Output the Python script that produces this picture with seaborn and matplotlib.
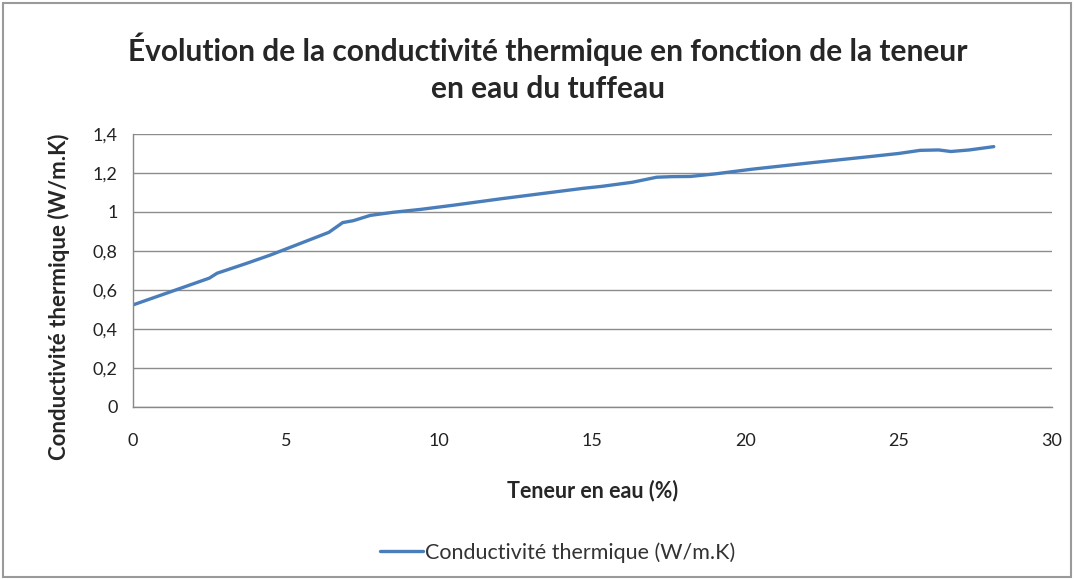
import matplotlib
matplotlib.use("Agg")
import matplotlib.pyplot as plt
import seaborn as sns
import pandas as pd
from matplotlib.patches import Rectangle

# teneur en eau (%) et conductivité thermique (W/m.K)
teneur = [0, 1.2, 2.5, 2.75, 3.7, 4.5, 5.5, 6.4, 6.85, 7.2, 7.75, 8.5, 9.4,
          10.5, 12, 13.5, 14.7, 15.3, 16.3, 17.1, 17.6, 18.2, 19, 20.2, 22,
          24, 25, 25.7, 26.3, 26.7, 27.3, 28.1]
conductivite = [0.522, 0.588, 0.66, 0.685, 0.735, 0.779, 0.84, 0.895, 0.945,
                0.955, 0.982, 0.998, 1.013, 1.035, 1.067, 1.097, 1.121, 1.131,
                1.152, 1.178, 1.181, 1.182, 1.195, 1.219, 1.25, 1.283, 1.30,
                1.316, 1.318, 1.31, 1.318, 1.335]

y_ticks = [0, 0.2, 0.4, 0.6, 0.8, 1.0, 1.2, 1.4]
y_labels = ["0", "0,2", "0,4", "0,6", "0,8", "1", "1,2", "1,4"]
x_ticks = [0, 5, 10, 15, 20, 25, 30]

serie = "Conductivité thermique (W/m.K)"
df = pd.DataFrame({"x": teneur, "y": conductivite})

sns.set_style("white")
plt.rcParams["font.family"] = ["Lato", "DejaVu Sans"]

fig = plt.figure(figsize=(10.74, 5.79), dpi=100)
ax = fig.add_axes([0.1236, 0.2976, 0.8559, 0.471])

sns.lineplot(data=df, x="x", y="y", ax=ax, color="#4A7EBB", linewidth=2.4,
             label=serie)

ax.set_xlim(0, 30)
ax.set_ylim(0, 1.4)
ax.set_xticks(x_ticks)
ax.set_xticklabels([str(t) for t in x_ticks])
ax.set_yticks(y_ticks)
ax.set_yticklabels(y_labels)
ax.tick_params(axis="both", labelsize=13, colors="#222222", length=5,
               width=1, direction="out", color="#888888", pad=6)
ax.tick_params(axis="x", pad=14)
ax.yaxis.grid(True, color="#8c8c8c", linewidth=1)
ax.set_axisbelow(True)
for s in ["top", "right"]:
    ax.spines[s].set_visible(False)
for s in ["left", "bottom"]:
    ax.spines[s].set_color("#888888")
    ax.spines[s].set_linewidth(1)

ax.set_xlabel("Teneur en eau (%)", fontsize=15.5, fontweight="bold", labelpad=22)
ax.set_ylabel(serie, fontsize=16, fontweight="bold")
ax.yaxis.set_label_coords(-0.068, 0.403)

fig.text(0.51, 0.915, "Évolution de la conductivité thermique en fonction de la teneur",
         ha="center", va="center", fontsize=21.5, fontweight="bold")
fig.text(0.51, 0.847, "en eau du tuffeau",
         ha="center", va="center", fontsize=21.5, fontweight="bold")

leg = ax.legend(loc="center", bbox_to_anchor=(0.462, -0.535), frameon=False,
                fontsize=15.5, handlelength=2.0, handletextpad=0.1)
for t in leg.get_texts():
    t.set_color("#333333")

fig.patches.append(Rectangle((0.003, 0.003), 0.994, 0.992,
                             transform=fig.transFigure, fill=False,
                             edgecolor="#9a9a9a", linewidth=1.5))

plt.savefig("out.png", dpi=100)
